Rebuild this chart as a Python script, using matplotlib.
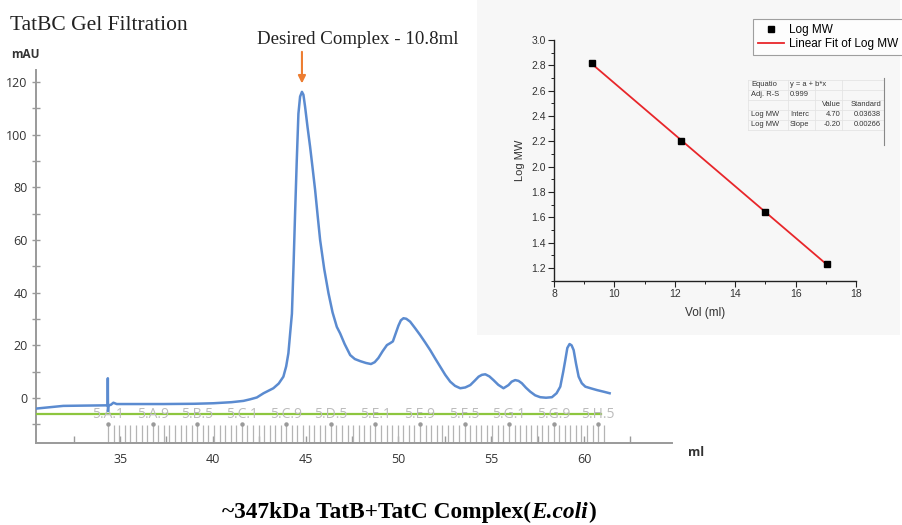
import numpy as np
import matplotlib
matplotlib.use("Agg")
import matplotlib.pyplot as plt
from matplotlib.ticker import MultipleLocator, FixedLocator, FormatStrFormatter
from matplotlib.patches import Rectangle
from matplotlib.lines import Line2D
from matplotlib.transforms import IdentityTransform

W, H = 902, 525


def fx(x):
    return x / W


def fy(y):
    return 1 - y / H


# ---------------- chromatogram (UV 280 nm) ----------------
elution_ml = [30.51, 31.94, 33.0, 34.19, 34.33, 34.34, 34.35, 34.37, 34.5, 34.64,
              34.82, 36.0, 37.33, 39.0, 40.03, 41.0, 41.65, 42.01, 42.37, 42.73,
              43.26, 43.55, 43.8, 43.95, 44.07, 44.17, 44.26, 44.35, 44.43, 44.52,
              44.61, 44.7, 44.8, 44.88, 44.97, 45.1, 45.24, 45.38, 45.51, 45.65,
              45.78, 46.0, 46.23, 46.45, 46.68, 46.86, 47.1, 47.4, 47.65, 47.94,
              48.25, 48.52, 48.72, 48.92, 49.15, 49.38, 49.55, 49.7, 49.85, 50.0,
              50.13, 50.27, 50.42, 50.63, 50.9, 51.17, 51.44, 51.71, 51.98, 52.25,
              52.52, 52.79, 53.05, 53.33, 53.6, 53.87, 54.1, 54.32, 54.5, 54.68,
              54.9, 55.12, 55.38, 55.66, 55.93, 56.1, 56.29, 56.47, 56.65, 56.87,
              57.1, 57.37, 57.64, 57.95, 58.27, 58.52, 58.72, 58.88, 58.99, 59.1,
              59.22, 59.33, 59.44, 59.57, 59.71, 59.88, 60.07, 60.4, 60.7, 61.05,
              61.38]
absorbance_mau = [-4.0, -3.0, -2.9, -2.8, -2.8, 7.5, -5.0, -2.8, -2.6, -1.8,
                  -2.3, -2.3, -2.3, -2.2, -2.0, -1.6, -1.1, -0.5, 0.2, 1.8,
                  3.7, 5.5, 8.1, 12.0, 17.0, 25.0, 32.0, 51.0, 70.0, 90.0,
                  108.0, 114.5, 116.3, 115.2, 110.6, 103.0, 95.4, 87.0, 79.0, 69.0,
                  60.0, 49.0, 39.8, 32.5, 27.0, 24.5, 20.5, 16.3, 14.8, 14.0,
                  13.3, 12.9, 13.6, 15.2, 17.8, 20.1, 20.8, 21.5, 24.5, 27.5,
                  29.5, 30.3, 30.1, 29.0, 26.5, 23.9, 21.1, 18.2, 15.0, 11.9,
                  8.8, 6.2, 4.6, 3.7, 4.0, 4.9, 6.5, 8.1, 8.8, 9.0,
                  8.2, 6.8, 5.0, 3.7, 4.9, 6.2, 6.8, 6.5, 5.6, 3.9,
                  2.4, 1.0, 0.3, 0.1, 0.3, 1.8, 4.3, 10.0, 14.4, 19.0,
                  20.5, 20.0, 18.2, 13.0, 8.1, 5.6, 4.3, 3.6, 3.0, 2.4,
                  1.8]

fraction_start_ml = 34.36
fraction_width_ml = 0.3
fraction_count = 90
fraction_labels = ["5.A.1", "5.A.9", "5.B.5", "5.C.1", "5.C.9", "5.D.5",
                   "5.E.1", "5.E.9", "5.F.5", "5.G.1", "5.G.9", "5.H.5"]
fraction_label_every = 8

x_ticks = [35, 40, 45, 50, 55, 60]
y_ticks = [0, 20, 40, 60, 80, 100, 120]
baseline_mau = -6.1
baseline_end_ml = 60.9
complex_peak_ml = 44.8

# ---------------- calibration standards ----------------
std_volume_ml = [9.25, 12.2, 15.0, 17.05]
std_log_mw = [2.82, 2.20, 1.64, 1.23]
fit_adj_r2 = "0.999"
fit_std_errors = ["0.03638", "0.00266"]

BLUE = "#5b8bd0"
GREEN = "#8dc63f"
ORANGE = "#ed7d31"
AXGRAY = "#9a9a9a"

fig = plt.figure(figsize=(W / 100, H / 100), dpi=100)
fig.patch.set_facecolor("white")

# ---------------- main chromatogram axes ----------------
ax = fig.add_axes([fx(36), fy(443), fx(672) - fx(36), fy(70) - fy(443)])
ax.set_xlim(30.47, 64.74)
ax.set_ylim(-17.1, 124.6)
ax.patch.set_alpha(0)
for s in ("top", "right"):
    ax.spines[s].set_visible(False)
for s in ("left", "bottom"):
    ax.spines[s].set_color(AXGRAY)
    ax.spines[s].set_linewidth(1.4)

ax.xaxis.set_major_locator(FixedLocator(x_ticks))
ax.xaxis.set_minor_locator(MultipleLocator(2.5))
ax.yaxis.set_major_locator(FixedLocator(y_ticks))
ax.yaxis.set_minor_locator(FixedLocator([-10, 10, 30, 50, 70, 90, 110]))
ax.tick_params(axis="x", which="both", direction="in", length=5, color=AXGRAY,
               width=1.0, labelsize=9, labelcolor="#333333", pad=7)
ax.tick_params(axis="y", which="both", direction="inout", length=6, color=AXGRAY,
               width=1.0, labelsize=9, labelcolor="#333333", pad=3)
for lab in ax.get_xticklabels() + ax.get_yticklabels():
    lab.set_family("Open Sans")

# fraction collector marks
frac_pos = [fraction_start_ml + i * fraction_width_ml for i in range(fraction_count)]
ax.vlines(frac_pos, -17.1, -10.3, color="#b4b4b4", lw=0.9, zorder=2)
label_pos = frac_pos[::fraction_label_every][:len(fraction_labels)]
ax.plot(label_pos, [-9.8] * len(label_pos), "o", ms=2.2, color="#9a9a9a", zorder=2)
ax.vlines(label_pos, -10.3, -9.8, color="#9a9a9a", lw=0.9, zorder=2)

# baseline marker and fraction names
ax.plot([30.47, baseline_end_ml], [baseline_mau, baseline_mau], color=GREEN, lw=1.6, zorder=3)
for pos, lab in zip(label_pos, fraction_labels):
    ax.text(pos, baseline_mau, lab, ha="center", va="center", fontsize=10,
            color="#bcbcbc", family="Open Sans", zorder=4)

# UV trace
ax.plot(elution_ml, absorbance_mau, color=BLUE, lw=1.8, zorder=5,
        solid_joinstyle="round")

# arrow to complex peak
ax.annotate("", xy=(complex_peak_ml, 119.5), xytext=(complex_peak_ml, 131.5),
            arrowprops=dict(arrowstyle="-|>", color=ORANGE, lw=1.5,
                            mutation_scale=11, shrinkA=0, shrinkB=0),
            annotation_clip=False)

fig.text(fx(358), fy(40), "Desired Complex - 10.8ml", ha="center", va="center",
         family="Liberation Serif", fontsize=13.6, color="#222222")
fig.text(fx(10), fy(26), "TatBC Gel Filtration", ha="left", va="center",
         family="Liberation Serif", fontsize=15.5, color="#222222")
fig.text(fx(11), fy(55), "mAU", ha="left", va="center", family="Open Sans",
         fontsize=8.5, fontweight="bold", color="#333333")
fig.text(fx(688), fy(452), "ml", ha="left", va="center", family="Open Sans",
         fontsize=9, fontweight="bold", color="#333333")

# caption with italic species name
cap_size = 16.8
cap = fig.text(fx(222), fy(518), "~347kDa TatB+TatC Complex(", ha="left", va="baseline",
               family="Liberation Serif", fontsize=cap_size, fontweight="bold", color="black")
fig.canvas.draw()
r = fig.canvas.get_renderer()
bb = cap.get_window_extent(r)
base_y = fig.transFigure.transform((0, fy(518)))[1]
cap2 = fig.text(bb.x1 + 0.5, base_y, "E.coli", ha="left", va="baseline",
                family="Liberation Serif", fontsize=cap_size, fontweight="bold",
                fontstyle="italic", color="black", transform=IdentityTransform())
fig.canvas.draw()
bb2 = cap2.get_window_extent(r)
fig.text(bb2.x1 + 0.5, base_y, ")", ha="left", va="baseline", family="Liberation Serif",
         fontsize=cap_size, fontweight="bold", color="black", transform=IdentityTransform())

# ---------------- calibration inset ----------------
fig.add_artist(Rectangle((fx(477), fy(335)), fx(900) - fx(477), fy(0) - fy(335),
                         transform=fig.transFigure, facecolor="#f7f7f7",
                         edgecolor="none", zorder=1))

slope, intercept = np.polyfit(std_volume_ml, std_log_mw, 1)

iax = fig.add_axes([fx(554), fy(280.7), fx(856) - fx(554), fy(40) - fy(280.7)])
iax.set_zorder(2)
iax.patch.set_alpha(0)
iax.set_xlim(8, 18)
iax.set_ylim(1.1, 3.0)
for s in ("top", "right"):
    iax.spines[s].set_visible(False)
for s in ("left", "bottom"):
    iax.spines[s].set_color("#222222")
    iax.spines[s].set_linewidth(1.0)
iax.xaxis.set_major_locator(MultipleLocator(2))
iax.xaxis.set_minor_locator(MultipleLocator(1))
iax.yaxis.set_major_locator(FixedLocator([1.2, 1.4, 1.6, 1.8, 2.0, 2.2, 2.4, 2.6, 2.8, 3.0]))
iax.yaxis.set_minor_locator(MultipleLocator(0.1))
iax.tick_params(which="major", direction="out", length=4, width=0.8, color="#222222",
                labelsize=7.5, labelcolor="#333333", pad=2)
iax.tick_params(which="minor", direction="out", length=2, width=0.7, color="#222222")
for lab in iax.get_xticklabels() + iax.get_yticklabels():
    lab.set_family("Liberation Sans")
iax.xaxis.set_major_formatter(FormatStrFormatter("%d"))
iax.yaxis.set_major_formatter(FormatStrFormatter("%.1f"))
iax.set_xlabel("Vol (ml)", family="Liberation Sans", fontsize=8.5, color="#333333", labelpad=6)
iax.set_ylabel("Log MW", family="Liberation Sans", fontsize=8, color="#333333", labelpad=4)

fit_x = np.array([min(std_volume_ml), max(std_volume_ml)])
iax.plot(fit_x, intercept + slope * fit_x, color="#e8262a", lw=1.3, zorder=3)
iax.plot(std_volume_ml, std_log_mw, "s", color="black", ms=4.5, zorder=4)

handles = [Line2D([], [], marker="s", color="black", ls="none", ms=4.5),
           Line2D([], [], color="#e8262a", lw=1.3)]
leg = fig.legend(handles, ["Log MW", "Linear Fit of Log MW"], loc="upper left",
                 bbox_to_anchor=(fx(747), fy(13)), frameon=True, fancybox=False,
                 borderpad=0.45, labelspacing=0.15, handlelength=2.2,
                 handletextpad=0.4, prop={"family": "Liberation Sans", "size": 8.5})
leg.get_frame().set_edgecolor("#888888")
leg.get_frame().set_linewidth(0.8)
leg.set_zorder(5)

# fit statistics table
tfont = dict(family="Liberation Sans", fontsize=5.4, color="#333333", va="center", zorder=5)
row_y = [85, 95, 105, 115, 125]
fig.text(fx(751), fy(row_y[0]), "Equatio", ha="left", **tfont)
fig.text(fx(790), fy(row_y[0]), "y = a + b*x", ha="left", **tfont)
fig.text(fx(751), fy(row_y[1]), "Adj. R-S", ha="left", **tfont)
fig.text(fx(790), fy(row_y[1]), fit_adj_r2, ha="left", **tfont)
fig.text(fx(841), fy(row_y[2]), "Value", ha="right", **tfont)
fig.text(fx(881), fy(row_y[2]), "Standard", ha="right", **tfont)
fig.text(fx(751), fy(row_y[3]), "Log MW", ha="left", **tfont)
fig.text(fx(790), fy(row_y[3]), "Interc", ha="left", **tfont)
fig.text(fx(841), fy(row_y[3]), f"{intercept:.2f}", ha="right", **tfont)
fig.text(fx(881), fy(row_y[3]), fit_std_errors[0], ha="right", **tfont)
fig.text(fx(751), fy(row_y[4]), "Log MW", ha="left", **tfont)
fig.text(fx(790), fy(row_y[4]), "Slope", ha="left", **tfont)
fig.text(fx(841), fy(row_y[4]), f"{slope:.2f}", ha="right", **tfont)
fig.text(fx(881), fy(row_y[4]), fit_std_errors[1], ha="right", **tfont)

for y in [80, 90, 100, 110, 120, 130]:
    fig.add_artist(Line2D([fx(748), fx(883)], [fy(y), fy(y)], transform=fig.transFigure,
                          color="#e4e4e4", lw=0.6, zorder=4))
for x in [748, 788, 815, 842]:
    fig.add_artist(Line2D([fx(x), fx(x)], [fy(80), fy(130)], transform=fig.transFigure,
                          color="#e4e4e4", lw=0.6, zorder=4))
fig.add_artist(Line2D([fx(884), fx(884)], [fy(78), fy(145)], transform=fig.transFigure,
                      color="#888888", lw=0.8, zorder=4))

fig.savefig("out.png", dpi=100, facecolor="white")
